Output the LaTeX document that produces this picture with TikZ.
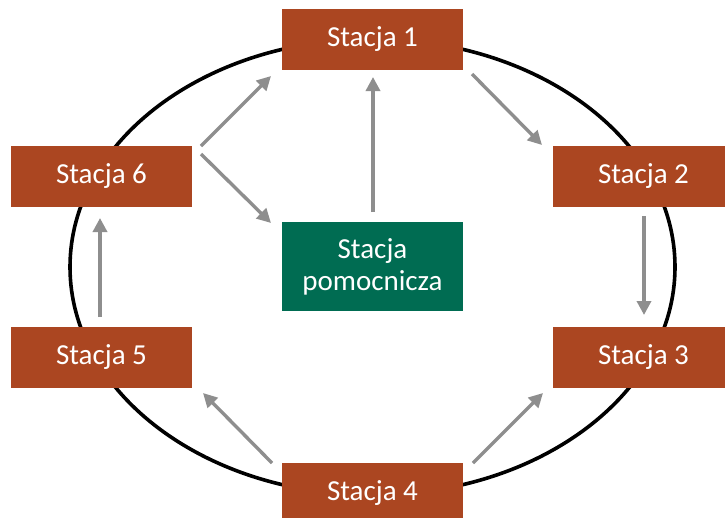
\documentclass[tikz,border=0pt]{standalone}
\usepackage{fontspec}
\setmainfont{Carlito}
\usetikzlibrary{arrows.meta}
\definecolor{boxbrown}{HTML}{AB4621}
\definecolor{boxgreen}{HTML}{006C52}
\definecolor{arrgray}{HTML}{8E8E8E}
\begin{document}
\begin{tikzpicture}[x=1pt,y=-1pt,
  stbox/.style={fill=boxbrown, draw=none, text=white, minimum width=181pt, minimum height=61pt, inner sep=0pt, font=\fontsize{29}{32}\selectfont},
  helpbox/.style={fill=boxgreen, draw=none, text=white, minimum width=181pt, minimum height=89pt, inner sep=0pt, align=center, font=\fontsize{29}{32}\selectfont},
  flow/.style={draw=arrgray, line width=3.4pt, -{Triangle[length=14pt,width=14pt]}}]
\useasboundingbox (0,0) rectangle (725,517);
\draw[line width=3.6pt] (372.5,267) ellipse [x radius=302.5, y radius=228];
\node[stbox] (s1) at (372.5,39.5) {Stacja 1};
\node[stbox] (s2) at (643.5,176.5) {Stacja 2};
\node[stbox] (s3) at (643.5,357) {Stacja 3};
\node[stbox] (s4) at (372.5,493) {Stacja 4};
\node[stbox] (s5) at (101.5,357) {Stacja 5};
\node[stbox] (s6) at (101.5,176.5) {Stacja 6};
\node[helpbox] (sp) at (372.5,266.5) {Stacja\\pomocnicza};
\coordinate (a6a) at (201,146);
\coordinate (a6b) at (271,76);
\coordinate (b6a) at (201,154);
\coordinate (b6b) at (271,223);
\coordinate (p1a) at (373,212);
\coordinate (p1b) at (373,77);
\coordinate (c12a) at (472,74);
\coordinate (c12b) at (542,145);
\coordinate (c23a) at (644,216);
\coordinate (c23b) at (644,315);
\coordinate (c43a) at (473,463);
\coordinate (c43b) at (543,393);
\coordinate (c45a) at (272,463);
\coordinate (c45b) at (203,393);
\coordinate (c56a) at (100,317);
\coordinate (c56b) at (100,218);
\draw[flow] (a6a) -- (a6b);
\draw[flow] (b6a) -- (b6b);
\draw[flow] (p1a) -- (p1b);
\draw[flow] (c12a) -- (c12b);
\draw[flow] (c23a) -- (c23b);
\draw[flow] (c43a) -- (c43b);
\draw[flow] (c45a) -- (c45b);
\draw[flow] (c56a) -- (c56b);
\end{tikzpicture}
\end{document}
